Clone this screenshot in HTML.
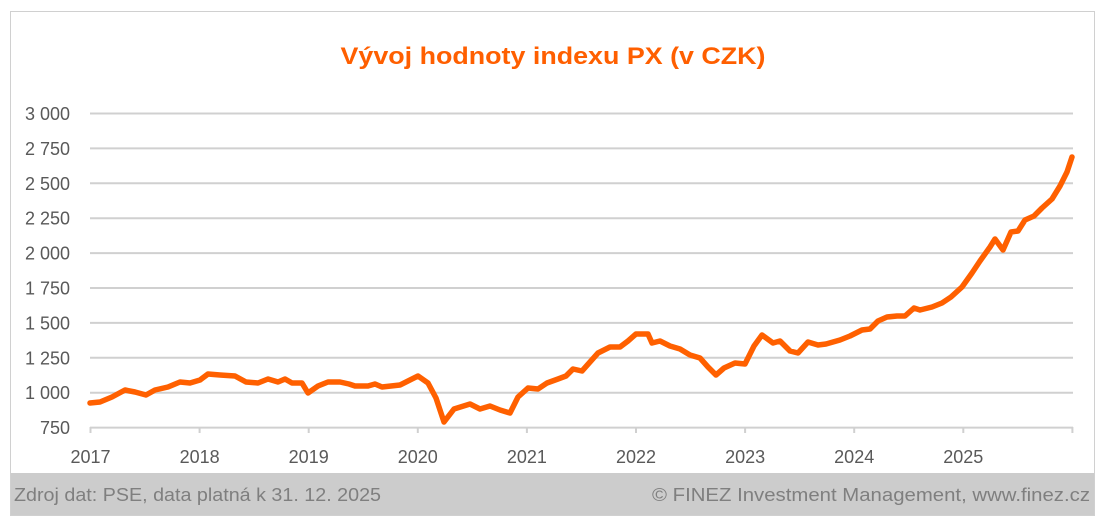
<!DOCTYPE html>
<html><head><meta charset="utf-8"><style>
html,body{margin:0;padding:0;background:#fff;}
svg{display:block;font-family:"Liberation Sans",sans-serif;}
</style></head><body>
<svg width="1108" height="526" viewBox="0 0 1108 526">
<rect x="10.5" y="11.5" width="1084" height="504" fill="#fff" stroke="#d0d0d0"/>
<rect x="11" y="473" width="1083" height="42" fill="#cccccc"/>
<text x="553" y="64" text-anchor="middle" font-size="24" font-weight="bold" fill="#ff5f00" textLength="425" lengthAdjust="spacingAndGlyphs">Vývoj hodnoty indexu PX (v CZK)</text>
<g stroke="#d0d0d0" stroke-width="2">
<line x1="90" y1="113.5" x2="1073" y2="113.5"/>
<line x1="90" y1="148.4" x2="1073" y2="148.4"/>
<line x1="90" y1="183.3" x2="1073" y2="183.3"/>
<line x1="90" y1="218.2" x2="1073" y2="218.2"/>
<line x1="90" y1="253.1" x2="1073" y2="253.1"/>
<line x1="90" y1="288" x2="1073" y2="288"/>
<line x1="90" y1="322.9" x2="1073" y2="322.9"/>
<line x1="90" y1="357.8" x2="1073" y2="357.8"/>
<line x1="90" y1="392.7" x2="1073" y2="392.7"/>
<line x1="90" y1="427.6" x2="1073" y2="427.6"/>
<line x1="90.5" y1="427" x2="90.5" y2="433"/>
<line x1="199.6" y1="427" x2="199.6" y2="433"/>
<line x1="308.7" y1="427" x2="308.7" y2="433"/>
<line x1="417.8" y1="427" x2="417.8" y2="433"/>
<line x1="526.9" y1="427" x2="526.9" y2="433"/>
<line x1="636" y1="427" x2="636" y2="433"/>
<line x1="745.1" y1="427" x2="745.1" y2="433"/>
<line x1="854.2" y1="427" x2="854.2" y2="433"/>
<line x1="963.3" y1="427" x2="963.3" y2="433"/>
<line x1="1072.4" y1="427" x2="1072.4" y2="433"/>
</g>
<g font-size="18" fill="#595959" text-anchor="end">
<text x="70" y="120">3 000</text>
<text x="70" y="154.9">2 750</text>
<text x="70" y="189.8">2 500</text>
<text x="70" y="224.7">2 250</text>
<text x="70" y="259.6">2 000</text>
<text x="70" y="294.5">1 750</text>
<text x="70" y="329.4">1 500</text>
<text x="70" y="364.3">1 250</text>
<text x="70" y="399.2">1 000</text>
<text x="70" y="434">750</text>
</g>
<g font-size="18" fill="#595959" text-anchor="middle">
<text x="90.5" y="463">2017</text>
<text x="199.6" y="463">2018</text>
<text x="308.7" y="463">2019</text>
<text x="417.8" y="463">2020</text>
<text x="526.9" y="463">2021</text>
<text x="636" y="463">2022</text>
<text x="745.1" y="463">2023</text>
<text x="854.2" y="463">2024</text>
<text x="963.3" y="463">2025</text>
</g>
<polyline fill="none" stroke="#ff6000" stroke-width="5.5" stroke-linejoin="round" stroke-linecap="round" points="90,403 100,402 112,397 125,390 135,392 146,395 155,390 168,387 180,382 190,383 200,380 208,374 220,375 235,376 246,382 258,383 268,379 278,382 285,379 292,383 302,383 308,393 318,386 328,382 340,382 349,384 355,386 368,386 375,384 382,387 400,385 408,381 418,376 428,383 436,398 444,422 454,409 470,404 480,409 490,406 500,410 510,413 518,397 528,388 538,389 547,383 558,379 566,376 573,369 582,371 590,362 598,353 610,347 620,347 628,341 636,334 648,334 652,343 660,341 670,346 680,349 690,355 700,358 708,367 716,375 724,368 735,363 745,364 754,346 762,335 773,343 780,341 790,351 798,353 808,342 818,345 826,344 840,340 850,336 862,330 870,329 878,321 887,317 897,316 905,316 914,308 920,310 932,307 942,303 951,297 962,287 972,273 980,261 990,247 995,239 1003,250 1011,232 1018,231 1025,220 1034,216 1042,208 1052,199 1060,186 1067,172 1072,157"/>
<text x="14" y="501" font-size="18" fill="#7f7f7f" textLength="367" lengthAdjust="spacingAndGlyphs">Zdroj dat: PSE, data platná k 31. 12. 2025</text>
<text x="652" y="501" font-size="18" fill="#7f7f7f" textLength="438" lengthAdjust="spacingAndGlyphs">© FINEZ Investment Management, www.finez.cz</text>
</svg>
</body></html>
